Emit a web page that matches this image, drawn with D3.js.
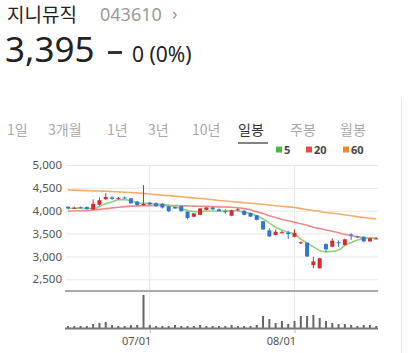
<!DOCTYPE html>
<html>
<head>
<meta charset="utf-8">
<script src="https://cdn.jsdelivr.net/npm/d3@7"></script>
<style>
  body { margin: 0; background: #fff; }
  svg { display: block; font-family: "Noto Sans", "Noto Sans CJK KR", sans-serif; }
</style>
</head>
<body>
<svg id="chart" width="410" height="353"></svg>
<script>
// trading days shown (2019)
var dates = ["06/12","06/13","06/14","06/17","06/18","06/19","06/20","06/21","06/24","06/25",
  "06/26","06/27","06/28","07/01","07/02","07/03","07/04","07/05","07/08","07/09",
  "07/10","07/11","07/12","07/15","07/16","07/17","07/18","07/19","07/22","07/23",
  "07/24","07/25","07/26","07/29","07/30","07/31","08/01","08/02","08/05","08/06",
  "08/07","08/08","08/09","08/12","08/13","08/14","08/16","08/19","08/20","08/21"];

var opens  = [4085,4055,4075,4080,4030,4130,4250,4290,4260,4290,4270,4200,4120,4175,4160,4150,4100,4080,4100,3980,
              3870,3910,4020,4070,4030,3990,3890,4010,4000,3950,3900,3770,3570,3470,3510,3520,3430,3290,3300,2810,
              2740,3270,3215,3310,3250,3480,3440,3430,3330,3395];
var highs  = [4100,4090,4090,4095,4250,4290,4380,4320,4300,4310,4280,4210,4560,4190,4185,4160,4110,4090,4110,3990,
              3950,4060,4080,4080,4050,4030,4020,4060,4010,3960,3910,3780,3620,3590,3560,3560,3590,3330,3310,2990,
              2970,3290,3395,3350,3390,3505,3450,3440,3410,3420];
var lows   = [4030,4040,4050,4020,4010,4110,4240,4240,4240,4260,4160,4110,4110,4120,4080,4050,3970,4040,3980,3810,
              3860,3900,4010,4020,3980,3930,3880,4000,3900,3860,3790,3580,3420,3460,3500,3380,3420,3270,2990,2740,
              2740,3100,3200,3210,3240,3360,3410,3310,3320,3380];
var closes = [4050,4065,4060,4040,4150,4230,4300,4260,4280,4270,4160,4125,4150,4140,4100,4070,3990,4050,3990,3840,
              3940,4050,4070,4030,3990,3980,4010,4030,3910,3870,3800,3590,3440,3540,3530,3490,3510,3310,3000,2890,
              2960,3155,3345,3290,3375,3460,3420,3330,3395,3395];
// volume, thousand shares
var volumes = [200,200,200,200,400,500,600,300,200,200,300,300,3300,300,200,200,200,300,200,200,
               200,300,200,200,200,200,300,200,200,200,300,1200,900,500,700,400,700,1200,1200,1300,
               1000,700,500,400,400,300,200,300,300,200];

// moving averages
var ma5  = [4050,4055,4060,4055,4040,4090,4150,4190,4240,4240,4215,4175,4160,4160,4150,4140,4120,4090,4040,4010,
            3980,3985,3995,3995,3995,3995,4000,3995,3960,3940,3885,3820,3730,3640,3580,3530,3490,3380,3290,3210,
            3130,3100,3110,3140,3240,3300,3360,3390,3395,3400];
var ma20 = [3990,3995,4000,4005,4015,4030,4045,4060,4075,4090,4100,4105,4110,4112,4115,4115,4115,4112,4110,4105,
            4100,4098,4095,4090,4085,4080,4075,4065,4045,4020,3975,3940,3890,3850,3810,3780,3745,3715,3680,3640,
            3610,3580,3550,3520,3480,3455,3430,3410,3400,3395];
var ma60 = [4455,4450,4445,4440,4435,4430,4425,4420,4412,4405,4398,4390,4380,4365,4352,4340,4330,4318,4305,4292,
            4280,4268,4255,4240,4225,4212,4200,4188,4176,4164,4152,4140,4125,4110,4098,4085,4070,4045,4025,4005,
            3985,3960,3945,3930,3910,3890,3870,3850,3835,3820];

var priceTicks = [2500, 3000, 3500, 4000, 4500, 5000];
var dateTicks = ["07/01", "08/01"];
var tabs = ["1일", "3개월", "1년", "3년", "10년", "일봉", "주봉", "월봉"];
var legend = [{name: "5", color: "#4cb847"}, {name: "20", color: "#e84a4a"}, {name: "60", color: "#f08a1d"}];

var svg = d3.select("#chart");

var up = "#d9282f", down = "#2f75d6";

// ---- header
svg.append("text").text("지니뮤직")
  .attr("x", 7).attr("y", 22)
  .style("font-family", "'Noto Sans CJK KR'").style("font-size", "19px").attr("fill", "#222");
svg.append("text").text("043610")
  .attr("x", 100).attr("y", 21)
  .style("font-size", "18px").attr("fill", "#9a9a9a");
svg.append("text").text("›")
  .attr("x", 172).attr("y", 20)
  .style("font-size", "18px").attr("fill", "#9a9a9a");

svg.append("text").text("3,395")
  .attr("x", 5).attr("y", 62)
  .style("font-size", "35px").attr("fill", "#222");
svg.append("rect")
  .attr("x", 108).attr("y", 51).attr("width", 14).attr("height", 3).attr("fill", "#333");
svg.append("text").text("0 (0%)")
  .attr("x", 132).attr("y", 62)
  .style("font-size", "21px").attr("fill", "#222");

// ---- period tabs
var tabX = [7, 48, 107, 148, 192, 238, 290, 340];
svg.append("g").selectAll("text")
  .data(tabs)
  .enter().append("text")
    .text(function(d) { return d; })
    .attr("x", function(d, i) { return tabX[i]; })
    .attr("y", 135)
    .style("font-family", "'Noto Sans CJK KR'")
    .style("font-size", "14px")
    .attr("fill", function(d) { return d == "일봉" ? "#333" : "#aaa"; });
svg.append("line")
  .attr("x1", 238).attr("x2", 268).attr("y1", 143).attr("y2", 143)
  .attr("stroke", "#333").attr("stroke-width", 1.2);

// right separator
svg.append("line")
  .attr("x1", 401.5).attr("x2", 401.5).attr("y1", 98).attr("y2", 353)
  .attr("stroke", "#e6e6e6");

// ---- legend
var lg = svg.append("g").selectAll("g")
  .data(legend)
  .enter().append("g")
    .attr("transform", function(d, i) { return "translate(" + [276, 306, 343][i] + ",0)"; });
lg.append("rect")
  .attr("x", 0).attr("y", 146.5).attr("width", 6).attr("height", 6)
  .attr("fill", function(d) { return d.color; });
lg.append("text")
  .text(function(d) { return d.name; })
  .attr("x", 8).attr("y", 153.5)
  .style("font-size", "11px").style("font-weight", "bold").attr("fill", "#444");

// ---- scales
var x = d3.scalePoint()
  .domain(dates)
  .range([68, 376.3]);

var y = d3.scaleLinear()
  .domain([2500, 5000])
  .range([279.3, 165]);

var vy = d3.scaleLinear()
  .domain([0, 3300])
  .range([328, 295]);

// price grid + labels
var yAxis = svg.append("g")
  .attr("transform", "translate(66,0)")
  .call(d3.axisLeft(y).tickValues(priceTicks).tickFormat(d3.format(",")).tickSize(-312).tickPadding(4));
yAxis.select(".domain").remove();
yAxis.selectAll("line").attr("stroke", "#e8e8e8");
yAxis.selectAll("text").style("font-size", "11.5px").attr("fill", "#555")
  .style("font-family", "'Noto Sans', sans-serif");

// vertical month lines
svg.append("g").selectAll("line")
  .data(dateTicks)
  .enter().append("line")
    .attr("x1", function(d) { return x(d); })
    .attr("x2", function(d) { return x(d); })
    .attr("y1", 165).attr("y2", 328)
    .attr("stroke", "#e8e8e8");

// panel separator
svg.append("line")
  .attr("x1", 65).attr("x2", 378).attr("y1", 291).attr("y2", 291)
  .attr("stroke", "#aaa").attr("stroke-width", 2);

// ---- moving averages
function maLine(vals) {
  return d3.line()
    .x(function(d, i) { return x(dates[i]); })
    .y(function(d) { return y(d); })
    .curve(d3.curveMonotoneX)(vals);
}
svg.append("path").attr("d", maLine(ma60)).attr("fill", "none").attr("stroke", "#f5ad6a").attr("stroke-width", 1.6);
svg.append("path").attr("d", maLine(ma20)).attr("fill", "none").attr("stroke", "#ef8a8a").attr("stroke-width", 1.6);
svg.append("path").attr("d", maLine(ma5)).attr("fill", "none").attr("stroke", "#8ed37d").attr("stroke-width", 1.6);

// ---- candles
var candles = svg.append("g").selectAll("g")
  .data(dates)
  .enter().append("g");

candles.append("line")
  .attr("x1", function(d) { return x(d); })
  .attr("x2", function(d) { return x(d); })
  .attr("y1", function(d, i) { return y(highs[i]); })
  .attr("y2", function(d, i) { return y(lows[i]); })
  .attr("stroke", function(d, i) { return closes[i] >= opens[i] ? up : down; })
  .attr("stroke-width", 1);

candles.append("rect")
  .attr("x", function(d) { return x(d) - 2; })
  .attr("width", 4)
  .attr("y", function(d, i) { return y(Math.max(opens[i], closes[i])); })
  .attr("height", function(d, i) { return Math.max(1, Math.abs(y(opens[i]) - y(closes[i]))); })
  .attr("fill", function(d, i) { return closes[i] >= opens[i] ? up : down; });

// ---- volume
svg.append("g").selectAll("rect")
  .data(dates)
  .enter().append("rect")
    .attr("x", function(d) { return x(d) - 1; })
    .attr("width", 2)
    .attr("y", function(d, i) { return vy(volumes[i]); })
    .attr("height", function(d, i) { return vy(0) - vy(volumes[i]); })
    .attr("fill", "#666");

svg.append("line")
  .attr("x1", 65).attr("x2", 378).attr("y1", 328.5).attr("y2", 328.5)
  .attr("stroke", "#777").attr("stroke-width", 2);

// date axis
var xAxis = svg.append("g")
  .attr("transform", "translate(0,329)")
  .call(d3.axisBottom(x).tickValues(dateTicks).tickSize(4).tickPadding(4));
xAxis.select(".domain").remove();
xAxis.selectAll("line").attr("stroke", "#bbb");
xAxis.selectAll("text")
  .attr("text-anchor", "end")
  .attr("dx", "1")
  .style("font-size", "11px")
  .style("font-family", "'Noto Sans', sans-serif")
  .attr("fill", "#555");
</script>
</body>
</html>
